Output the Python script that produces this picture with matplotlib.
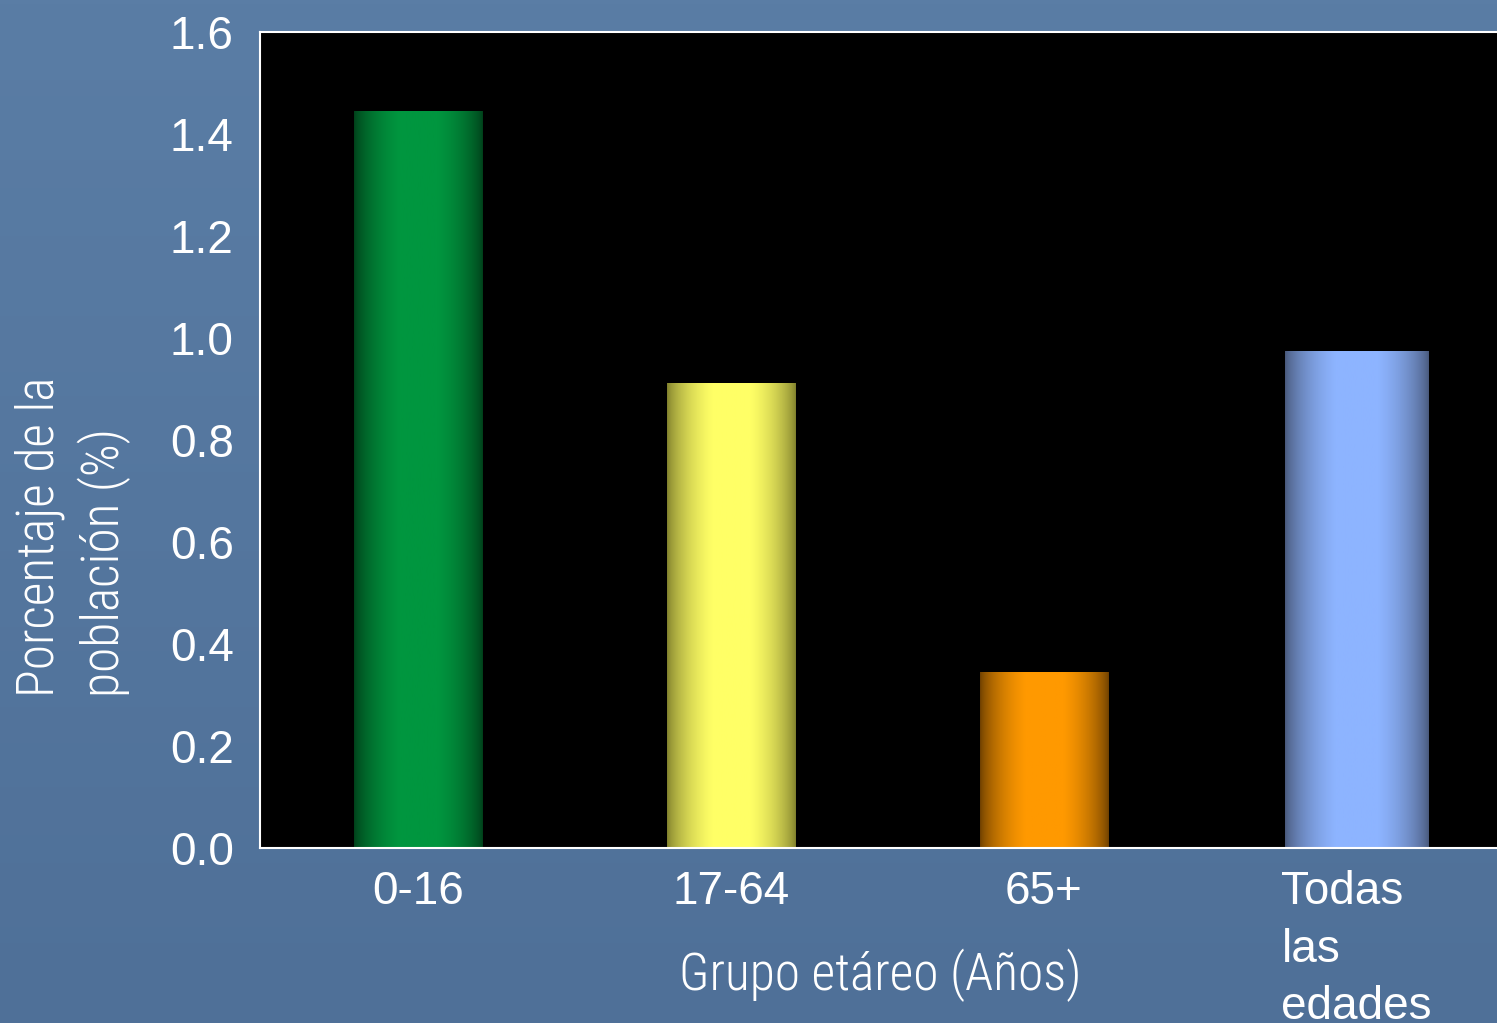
import matplotlib
matplotlib.use('Agg')
import matplotlib.pyplot as plt
import numpy as np
from matplotlib.colors import LinearSegmentedColormap

# data
grupos = ['0-16', '17-64', '65+', 'Todas\nlas\nedades']
porcentaje = [1.445, 0.912, 0.345, 0.975]
yticks = [0.0, 0.2, 0.4, 0.6, 0.8, 1.0, 1.2, 1.4, 1.6]

# (edge colour, centre colour) for the cylinder-like shading
bar_colors = [('#00401a', '#00963f'),
              ('#7f7f2c', '#ffff66'),
              ('#6e4000', '#ff9900'),
              ('#48587a', '#8db4ff')]
bar_widths = [0.41, 0.41, 0.41, 0.46]

narrow = ['Roboto Condensed', 'DejaVu Sans']
plt.rcParams['font.family'] = ['Liberation Sans', 'DejaVu Sans']

fig = plt.figure(figsize=(14.97, 10.23), dpi=100)

# slide background
bg = fig.add_axes([0, 0, 1, 1], zorder=-10)
bg_cmap = LinearSegmentedColormap.from_list('bg', ['#5a7da5', '#4f7098'])
bg.imshow(np.linspace(0, 1, 256).reshape(-1, 1), cmap=bg_cmap, aspect='auto',
          extent=[0, 1, 0, 1])
bg.set_axis_off()

ax = fig.add_axes([0.1737, 0.171, 0.836, 0.7977])
ax.set_facecolor('black')
x = np.arange(len(grupos)) + 0.005
bars = ax.bar(x, porcentaje, width=bar_widths, color='none', edgecolor='none')

t = np.linspace(0, 1, 200)
prof = np.clip(np.sin(np.pi * t) ** 0.7 * 1.08, 0, 1).reshape(1, -1)
for b, (c0, c1) in zip(bars, bar_colors):
    cm = LinearSegmentedColormap.from_list('g', [c0, c1])
    x0, w, h = b.get_x(), b.get_width(), b.get_height()
    im = ax.imshow(prof, cmap=cm, vmin=0, vmax=1, aspect='auto',
                   extent=[x0, x0 + w, 0, h], zorder=2)
    im.set_clip_path(b)

ax.set_xlim(-0.5, 3.5)
ax.set_ylim(0, 1.6)
ax.set_yticks(yticks)
ax.set_yticklabels([f'{v:.1f}' for v in yticks])
ax.set_xticks(x)
ax.set_xticklabels(grupos)
last = ax.xaxis.get_ticklabels()[-1]
last.set_multialignment('left')
last.set_linespacing(1.4)
ax.tick_params(axis='both', length=0, colors='white', labelsize=33)
ax.tick_params(axis='y', pad=19)
ax.tick_params(axis='x', pad=16)
for s in ['left', 'top', 'bottom']:
    ax.spines[s].set_color('white')
    ax.spines[s].set_linewidth(1.5)
ax.spines['right'].set_visible(False)

fig.text(73 / 1497, 1 - 537 / 1023, 'Porcentaje de la\npoblación (%)', rotation=90,
         ha='center', va='center', color='white', fontsize=37, family=narrow,
         weight=300, linespacing=1.3, multialignment='left')
fig.text(880 / 1497, 1 - 975 / 1023, 'Grupo etáreo (Años)', ha='center', va='center',
         color='white', fontsize=37, family=narrow, weight=300)

fig.savefig('out.png', dpi=100)
